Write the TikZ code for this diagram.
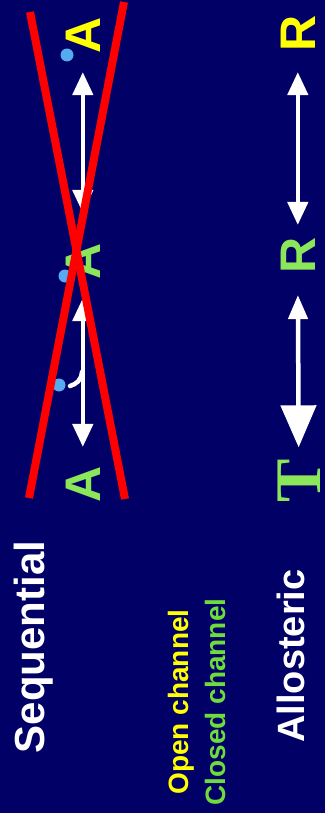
\documentclass[tikz,border=0pt]{standalone}
\usepackage{fontspec}
\setmainfont{Liberation Sans}
\newfontfamily\tfont{Liberation Serif}
\usetikzlibrary{arrows.meta}
\definecolor{bg}{RGB}{0,0,102}
\definecolor{lgreen}{RGB}{140,230,90}
\definecolor{cgreen}{RGB}{110,220,60}
\definecolor{yel}{RGB}{255,255,0}
\definecolor{dotblue}{RGB}{85,170,240}
\definecolor{xred}{RGB}{255,0,0}
\begin{document}
\begin{tikzpicture}[x=1pt,y=-1pt,
  lbl/.style={inner sep=0pt, outer sep=0pt, rotate=90, anchor=base},
  big/.style={font=\bfseries\fontsize{50}{60}\selectfont},
  dbl/.style={white, line width=4.5pt, {Triangle[width=20pt,length=23pt]}-{Triangle[width=20pt,length=23pt]}},
  dblbig/.style={white, line width=4.5pt, {Triangle[width=19pt,length=24pt]}-{Triangle[width=35pt,length=42pt]}},
  ligand/.style={fill=dotblue},
  cross/.style={xred, line width=8pt}]
\fill[bg] (0,0) rectangle (325,813);
\useasboundingbox (0,0) rectangle (325,813);

% sequential scheme
\node[lbl, big, text=lgreen] (A1) at (100,484.5) {A};
\node[lbl, big, text=lgreen] (A2) at (100,261) {A};
\node[lbl, big, text=yel] (A3) at (100,35.5) {A};
\draw[dbl, shorten <=19.5pt, shorten >=19pt] (A1.east) -- (A2.west);
\draw[dbl, shorten <=30pt, shorten >=18.5pt] (A2.east) -- (A3.west);
\draw[white, line width=4.5pt, line cap=round] (82,372) .. controls (81,381) and (76,384) .. (70,386);
\fill[ligand] (59,385) circle (6.5pt);
\fill[ligand] (65,276) circle (6.5pt);
\fill[ligand] (67,55) circle (6.5pt);

% allosteric scheme
\node[lbl, text=lgreen, font=\tfont\bfseries\fontsize{65}{70}\selectfont] (T) at (320,481) {T};
\node[lbl, big, text=lgreen] (R2) at (315,255.5) {R};
\node[lbl, big, text=yel] (R1) at (315,33.5) {R};
\draw[dblbig, shorten <=21.5pt, shorten >=12pt] (R2.west) -- (T.east);
\draw[dbl, shorten <=12.5pt, shorten >=20.5pt] (R2.east) -- (R1.west);

% labels
\node[lbl, text=white, font=\bfseries\fontsize{42}{48}\selectfont] (seq) at (44,647) {Sequential};
\node[lbl, text=yel, font=\bfseries\fontsize{28}{32}\selectfont] (open) at (188,702) {Open channel};
\node[lbl, text=cgreen, font=\bfseries\fontsize{28}{32}\selectfont] (closed) at (225,702) {Closed channel};
\node[lbl, text=white, font=\bfseries\fontsize{38}{44}\selectfont] (allo) at (304,656) {Allosteric};

% red cross
\draw[cross] (30,12) -- (125,499);
\draw[cross] (124,2) -- (29,498);
\end{tikzpicture}
\end{document}
